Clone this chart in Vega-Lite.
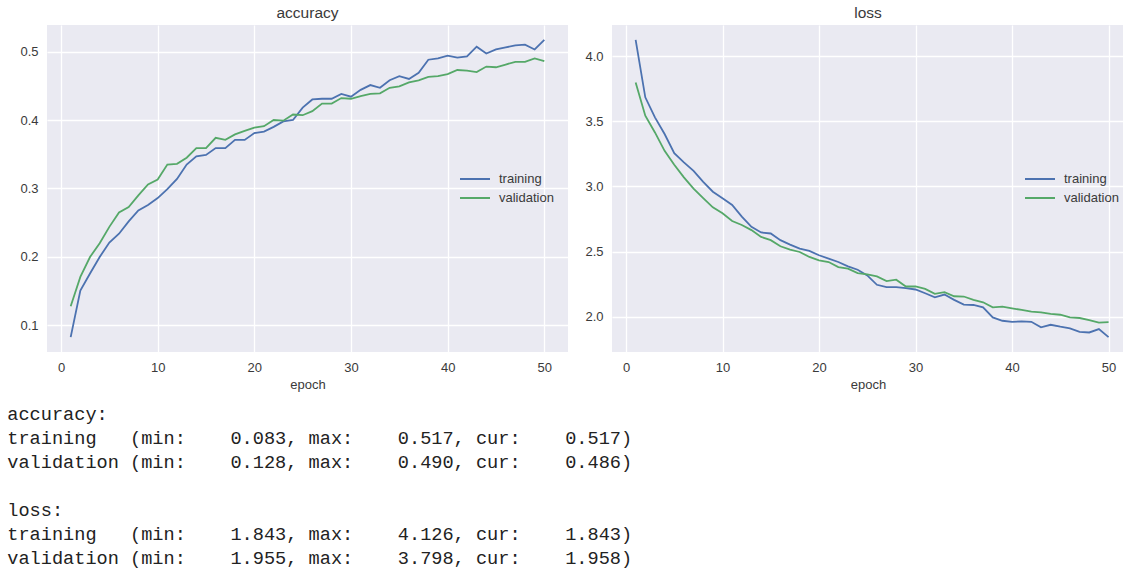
{
  "$schema": "https://vega.github.io/schema/vega-lite/v6.json",
  "padding": {"left": 6, "top": 5, "right": 0, "bottom": 2},
  "background": "white",
  "datasets": {
    "accuracy": [
      {"epoch":1,"training":0.083,"validation":0.128},{"epoch":2,"training":0.151,"validation":0.171},{"epoch":3,"training":0.176,"validation":0.200},{"epoch":4,"training":0.200,"validation":0.220},{"epoch":5,"training":0.221,"validation":0.244},
      {"epoch":6,"training":0.234,"validation":0.265},{"epoch":7,"training":0.252,"validation":0.273},{"epoch":8,"training":0.268,"validation":0.290},{"epoch":9,"training":0.276,"validation":0.306},{"epoch":10,"training":0.286,"validation":0.313},
      {"epoch":11,"training":0.299,"validation":0.335},{"epoch":12,"training":0.314,"validation":0.336},{"epoch":13,"training":0.335,"validation":0.345},{"epoch":14,"training":0.347,"validation":0.359},{"epoch":15,"training":0.349,"validation":0.359},
      {"epoch":16,"training":0.359,"validation":0.374},{"epoch":17,"training":0.359,"validation":0.371},{"epoch":18,"training":0.371,"validation":0.379},{"epoch":19,"training":0.371,"validation":0.384},{"epoch":20,"training":0.381,"validation":0.389},
      {"epoch":21,"training":0.383,"validation":0.391},{"epoch":22,"training":0.390,"validation":0.400},{"epoch":23,"training":0.398,"validation":0.399},{"epoch":24,"training":0.400,"validation":0.408},{"epoch":25,"training":0.418,"validation":0.407},
      {"epoch":26,"training":0.430,"validation":0.413},{"epoch":27,"training":0.431,"validation":0.424},{"epoch":28,"training":0.431,"validation":0.424},{"epoch":29,"training":0.438,"validation":0.432},{"epoch":30,"training":0.434,"validation":0.431},
      {"epoch":31,"training":0.444,"validation":0.435},{"epoch":32,"training":0.451,"validation":0.438},{"epoch":33,"training":0.447,"validation":0.439},{"epoch":34,"training":0.458,"validation":0.447},{"epoch":35,"training":0.464,"validation":0.449},
      {"epoch":36,"training":0.460,"validation":0.455},{"epoch":37,"training":0.469,"validation":0.458},{"epoch":38,"training":0.488,"validation":0.463},{"epoch":39,"training":0.490,"validation":0.464},{"epoch":40,"training":0.494,"validation":0.467},
      {"epoch":41,"training":0.491,"validation":0.473},{"epoch":42,"training":0.493,"validation":0.472},{"epoch":43,"training":0.507,"validation":0.470},{"epoch":44,"training":0.497,"validation":0.478},{"epoch":45,"training":0.503,"validation":0.477},
      {"epoch":46,"training":0.506,"validation":0.481},{"epoch":47,"training":0.509,"validation":0.485},{"epoch":48,"training":0.510,"validation":0.485},{"epoch":49,"training":0.503,"validation":0.490},{"epoch":50,"training":0.517,"validation":0.486}
    ],
    "loss": [
      {"epoch":1,"training":4.126,"validation":3.798},{"epoch":2,"training":3.685,"validation":3.544},{"epoch":3,"training":3.531,"validation":3.415},{"epoch":4,"training":3.403,"validation":3.274},{"epoch":5,"training":3.256,"validation":3.167},
      {"epoch":6,"training":3.185,"validation":3.070},{"epoch":7,"training":3.120,"validation":2.983},{"epoch":8,"training":3.036,"validation":2.910},{"epoch":9,"training":2.960,"validation":2.840},{"epoch":10,"training":2.910,"validation":2.794},
      {"epoch":11,"training":2.858,"validation":2.735},{"epoch":12,"training":2.768,"validation":2.704},{"epoch":13,"training":2.690,"validation":2.665},{"epoch":14,"training":2.647,"validation":2.613},{"epoch":15,"training":2.639,"validation":2.588},
      {"epoch":16,"training":2.588,"validation":2.541},{"epoch":17,"training":2.554,"validation":2.515},{"epoch":18,"training":2.523,"validation":2.497},{"epoch":19,"training":2.505,"validation":2.459},{"epoch":20,"training":2.472,"validation":2.433},
      {"epoch":21,"training":2.446,"validation":2.420},{"epoch":22,"training":2.420,"validation":2.381},{"epoch":23,"training":2.387,"validation":2.369},{"epoch":24,"training":2.361,"validation":2.335},{"epoch":25,"training":2.317,"validation":2.325},
      {"epoch":26,"training":2.245,"validation":2.309},{"epoch":27,"training":2.227,"validation":2.273},{"epoch":28,"training":2.227,"validation":2.284},{"epoch":29,"training":2.219,"validation":2.232},{"epoch":30,"training":2.209,"validation":2.232},
      {"epoch":31,"training":2.180,"validation":2.214},{"epoch":32,"training":2.149,"validation":2.175},{"epoch":33,"training":2.170,"validation":2.188},{"epoch":34,"training":2.129,"validation":2.157},{"epoch":35,"training":2.093,"validation":2.155},
      {"epoch":36,"training":2.090,"validation":2.129},{"epoch":37,"training":2.072,"validation":2.111},{"epoch":38,"training":1.995,"validation":2.072},{"epoch":39,"training":1.969,"validation":2.077},{"epoch":40,"training":1.961,"validation":2.064},
      {"epoch":41,"training":1.964,"validation":2.052},{"epoch":42,"training":1.961,"validation":2.039},{"epoch":43,"training":1.918,"validation":2.034},{"epoch":44,"training":1.938,"validation":2.021},{"epoch":45,"training":1.923,"validation":2.015},
      {"epoch":46,"training":1.910,"validation":1.995},{"epoch":47,"training":1.884,"validation":1.990},{"epoch":48,"training":1.879,"validation":1.974},{"epoch":49,"training":1.905,"validation":1.955},{"epoch":50,"training":1.843,"validation":1.958}
    ],
    "log": [
      {"line":0,"text":"accuracy:"},
      {"line":1,"text":"training\u00a0\u00a0\u00a0(min:\u00a0\u00a0\u00a0\u00a00.083,\u00a0max:\u00a0\u00a0\u00a0\u00a00.517,\u00a0cur:\u00a0\u00a0\u00a0\u00a00.517)"},
      {"line":2,"text":"validation\u00a0(min:\u00a0\u00a0\u00a0\u00a00.128,\u00a0max:\u00a0\u00a0\u00a0\u00a00.490,\u00a0cur:\u00a0\u00a0\u00a0\u00a00.486)"},
      {"line":3,"text":""},
      {"line":4,"text":"loss:"},
      {"line":5,"text":"training\u00a0\u00a0\u00a0(min:\u00a0\u00a0\u00a0\u00a01.843,\u00a0max:\u00a0\u00a0\u00a0\u00a04.126,\u00a0cur:\u00a0\u00a0\u00a0\u00a01.843)"},
      {"line":6,"text":"validation\u00a0(min:\u00a0\u00a0\u00a0\u00a01.955,\u00a0max:\u00a0\u00a0\u00a0\u00a03.798,\u00a0cur:\u00a0\u00a0\u00a0\u00a01.958)"}
    ]
  },
  "config": {
    "view": {"fill": "#EAEAF2", "stroke": null},
    "axis": {
      "domain": false, "ticks": false, "grid": true, "gridColor": "#FFFFFF", "gridWidth": 1.3,
      "labelFont": "Liberation Sans", "labelFontSize": 13, "labelColor": "#3a3a3a", "labelPadding": 9,
      "titleFont": "Liberation Sans", "titleFontSize": 13, "titleFontWeight": "normal", "titleColor": "#3a3a3a", "titlePadding": 4
    },
    "title": {"font": "Liberation Sans", "fontSize": 15.5, "fontWeight": "normal", "color": "#3a3a3a", "offset": 4, "anchor": "middle"},
    "legend": {
      "labelFont": "Liberation Sans", "labelFontSize": 13, "labelColor": "#3a3a3a", "padding": 0
    }
  },
  "spacing": 13,
  "vconcat": [
    {
      "spacing": 16,
      "resolve": {"scale": {"color": "independent", "x": "independent", "y": "independent"}, "legend": {"color": "independent"}},
      "hconcat": [
        {
          "width": 521, "height": 327,
          "title": "accuracy",
          "data": {"name": "accuracy"},
          "transform": [{"fold": ["training", "validation"], "as": ["series", "value"]}],
          "mark": {"type": "line", "strokeWidth": 1.8, "clip": true},
          "encoding": {
            "x": {"field": "epoch", "type": "quantitative", "scale": {"domain": [-1.45, 52.45], "nice": false, "zero": false}, "axis": {"values": [0, 10, 20, 30, 40, 50], "title": "epoch"}},
            "y": {"field": "value", "type": "quantitative", "scale": {"domain": [0.0613, 0.5387], "nice": false, "zero": false}, "axis": {"values": [0.1, 0.2, 0.3, 0.4, 0.5], "format": ".1f", "title": null}},
            "color": {"field": "series", "type": "nominal", "scale": {"domain": ["training", "validation"], "range": ["#4C72B0", "#55A868"]},
              "legend": {"orient": "none", "legendX": 419, "legendY": 145, "title": null, "symbolType": "M-1.875,0H1.875", "symbolSize": 256, "symbolStrokeWidth": 2, "labelOffset": 15, "rowPadding": 3}}
          }
        },
        {
          "width": 512, "height": 327,
          "title": "loss",
          "data": {"name": "loss"},
          "transform": [{"fold": ["training", "validation"], "as": ["series", "value"]}],
          "mark": {"type": "line", "strokeWidth": 1.8, "clip": true},
          "encoding": {
            "x": {"field": "epoch", "type": "quantitative", "scale": {"domain": [-1.45, 51.6], "nice": false, "zero": false}, "axis": {"values": [0, 10, 20, 30, 40, 50], "title": "epoch"}},
            "y": {"field": "value", "type": "quantitative", "scale": {"domain": [1.729, 4.240], "nice": false, "zero": false}, "axis": {"values": [2.0, 2.5, 3.0, 3.5, 4.0], "format": ".1f", "title": null}},
            "color": {"field": "series", "type": "nominal", "scale": {"domain": ["training", "validation"], "range": ["#4C72B0", "#55A868"]},
              "legend": {"orient": "none", "legendX": 419, "legendY": 145, "title": null, "symbolType": "M-1.875,0H1.875", "symbolSize": 256, "symbolStrokeWidth": 2, "labelOffset": 15, "rowPadding": 3}}
          }
        }
      ]
    },
    {
      "width": 2, "height": 144,
      "view": {"fill": "transparent", "stroke": "transparent"},
      "data": {"name": "log"},
      "mark": {"type": "text", "align": "left", "baseline": "middle", "dx": -40.7, "font": "Liberation Mono", "fontSize": 18.6, "color": "#222222"},
      "encoding": {
        "y": {"field": "line", "type": "quantitative", "scale": {"domain": [0, 6], "reverse": true, "nice": false, "zero": false}, "axis": null},
        "text": {"field": "text"}
      }
    }
  ]
}
